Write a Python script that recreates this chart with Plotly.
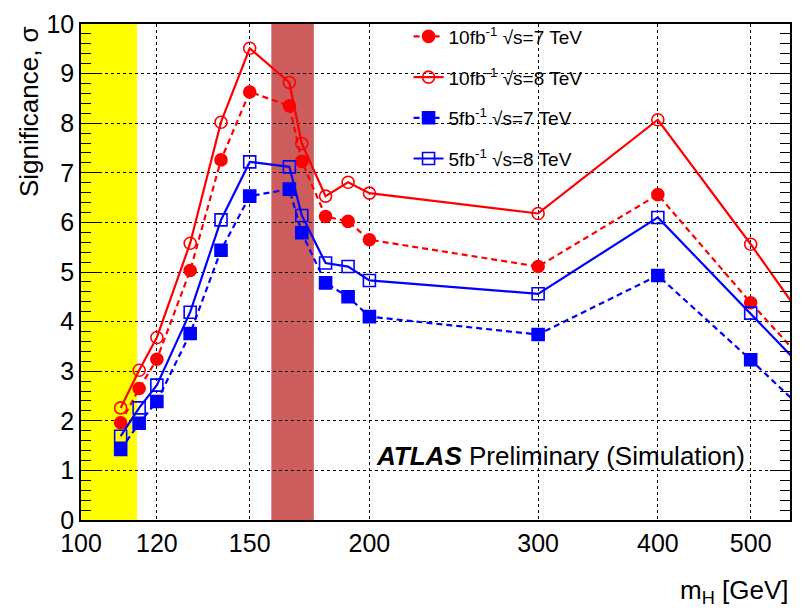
import plotly.graph_objects as go

# ---- data ----
mass = [110, 115, 120, 130, 140, 150, 165, 170, 180, 190, 200, 300, 400, 500, 600]
sig_10fb_7tev = [1.96, 2.65, 3.24, 5.03, 7.26, 8.63, 8.35, 7.23, 6.12, 6.02, 5.65, 5.11, 6.56, 4.38, 2.70]
sig_10fb_8tev = [2.26, 3.02, 3.68, 5.58, 8.02, 9.51, 8.82, 7.59, 6.53, 6.81, 6.59, 6.18, 8.07, 5.56, 3.40]
sig_5fb_7tev = [1.42, 1.95, 2.39, 3.76, 5.44, 6.53, 6.67, 5.79, 4.78, 4.50, 4.10, 3.74, 4.93, 3.23, 1.78]
sig_5fb_8tev = [1.69, 2.26, 2.72, 4.19, 6.05, 7.22, 7.12, 6.14, 5.18, 5.11, 4.83, 4.56, 6.10, 4.17, 2.57]

x_ticks = [100, 120, 150, 200, 300, 400, 500]
lep_band = [100, 114.4]
tev_band = [158, 175]

FONT = "Liberation Sans, Arial, sans-serif"
RED = "#FF0000"
BLUE = "#0000FF"

fig = go.Figure()

series = [
    ("10fb<sup>-1</sup> √s=7 TeV", sig_10fb_7tev, RED, "dash", "circle"),
    ("10fb<sup>-1</sup> √s=8 TeV", sig_10fb_8tev, RED, "solid", "circle-open"),
    ("5fb<sup>-1</sup> √s=7 TeV", sig_5fb_7tev, BLUE, "dash", "square"),
    ("5fb<sup>-1</sup> √s=8 TeV", sig_5fb_8tev, BLUE, "solid", "square-open"),
]
for i, (name, vals, col, dash, sym) in enumerate(series):
    fig.add_trace(go.Scatter(
        x=mass, y=vals, name=name, mode="lines+markers",
        line=dict(color=col, width=2.2, dash=("6px,4px" if dash == "dash" else "solid")),
        marker=dict(symbol=sym, size=12, color=col, line=dict(color=col, width=1.6)),
        legendgroup=f"g{i}",
    ))

fig.add_shape(type="rect", xref="x", yref="paper", x0=lep_band[0], x1=lep_band[1], y0=0, y1=1,
              fillcolor="#FFFF00", line=dict(width=0), layer="between")
fig.add_shape(type="rect", xref="x", yref="paper", x0=tev_band[0], x1=tev_band[1], y0=0, y1=1,
              fillcolor="#CD5C5C", line=dict(width=0), layer="between")

fig.add_annotation(xref="paper", yref="paper", x=0.4135, y=0.129, xanchor="left", yanchor="middle",
                   text="<b><i>ATLAS</i></b> Preliminary (Simulation)", showarrow=False,
                   font=dict(family=FONT, size=26, color="black"))
fig.add_annotation(xref="paper", yref="paper", x=1.002, y=-0.145, xanchor="right", yanchor="middle",
                   text="m<sub>H</sub> [GeV]", showarrow=False,
                   font=dict(family=FONT, size=26, color="black"))
fig.add_annotation(xref="paper", yref="paper", x=-0.074, y=1.0, xanchor="center", yanchor="top",
                   text="Significance, σ", textangle=-90, showarrow=False,
                   font=dict(family=FONT, size=26, color="black"))

fig.update_xaxes(
    type="log", range=[2.0, 2.74], tickvals=x_ticks, ticktext=[str(v) for v in x_ticks],
    showgrid=True, gridcolor="black", griddash="dot", gridwidth=1.3,
    showline=True, linecolor="black", linewidth=1.5, mirror=True,
    ticks="", tickfont=dict(family=FONT, size=25, color="black"), ticklabelstandoff=0,
    zeroline=False,
)
fig.update_yaxes(
    range=[0, 10], dtick=1, showgrid=True, gridcolor="black", griddash="dot", gridwidth=1.3,
    showline=True, linecolor="black", linewidth=1.5, mirror="allticks",
    ticks="inside", ticklen=20, tickwidth=1.3, tickcolor="black",
    minor=dict(dtick=0.2, ticks="inside", ticklen=10, tickwidth=1.3, tickcolor="black", showgrid=False),
    tickfont=dict(family=FONT, size=25, color="black"), zeroline=False,
)

fig.update_layout(
    width=802, height=610,
    margin=dict(l=81, r=10, t=16, b=90),
    plot_bgcolor="white", paper_bgcolor="white",
    showlegend=True,
    legend=dict(x=0.462, y=1.013, xanchor="left", yanchor="top", bgcolor="rgba(0,0,0,0)",
                font=dict(family=FONT, size=19, color="black"), tracegroupgap=13, itemwidth=30),
)

fig.write_html("out.html")
